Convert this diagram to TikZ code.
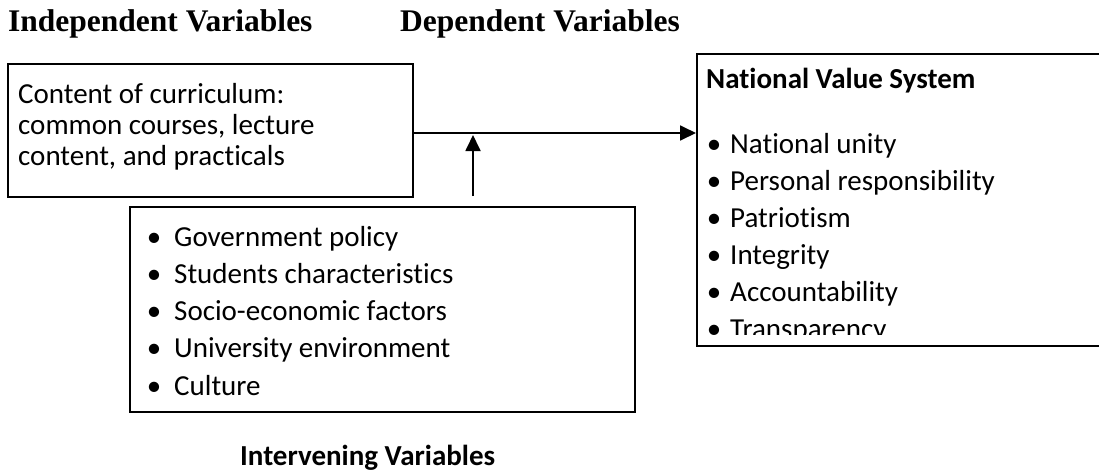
\documentclass[tikz,border=0pt]{standalone}
\usepackage{fontspec}
\setmainfont{Carlito}[Ligatures=CommonOff]
\newfontfamily\headfont{Liberation Serif}
\usetikzlibrary{arrows.meta}
\tikzset{
  box/.style={draw, line width=1.8pt, inner sep=0pt, anchor=north west},
  item/.style={anchor=base west, inner sep=0pt, font=\fontsize{29}{37}\selectfont},
  dot/.style={anchor=base, inner sep=0pt, font=\fontsize{29}{37}\selectfont},
  heading/.style={anchor=base west, inner sep=0pt, font=\headfont\bfseries\fontsize{31.5}{36}\selectfont},
  link/.style={line width=1.8pt, -{Triangle[length=16pt,width=15pt]}}
}
\begin{document}
\begin{tikzpicture}[x=1pt,y=-1pt]
    \useasboundingbox (0,0) rectangle (1099,472);
    \node[heading] (indep) at (8,31) {Independent Variables}; % top labels
    \node[heading] (dep) at (400,31) {Dependent Variables};
    % curriculum box
    \node[box, minimum width=405pt, minimum height=133pt] (content) at (7,63) {};
    \node[item] (c1) at (18,103) {Content of curriculum:};
    \node[item] (c2) at (18,134) {common courses, lecture};
    \node[item] (c3) at (18,165) {content, and practicals};
    % intervening box
    \node[box, minimum width=505pt, minimum height=205pt] (inter) at (129,206) {};
    \foreach \t [count=\i] in {Government policy, Students characteristics, Socio-economic factors, University environment, Culture}{
        \node[dot] (ib\i) at (154,208.75+37.25*\i) {\textbullet};
        \node[item] (it\i) at (174,208.75+37.25*\i) {\t};
    }
    \node[item, font=\bfseries\fontsize{29}{37}\selectfont] (ilabel) at (240,465) {Intervening Variables};
    % value system box, runs off the right side
    \node[box, minimum width=406pt, minimum height=292pt] (values) at (696,53) {};
    \node[item, font=\bfseries\fontsize{29}{37}\selectfont] (vtitle) at (706,88) {National Value System};
    \begin{scope}
        \clip (values.north west) rectangle (1099,334);
        \foreach \t [count=\i] in {National unity, Personal responsibility, Patriotism, Integrity, Accountability, Transparency}{
            \node[dot] (vb\i) at (714,116+37*\i) {\textbullet};
            \node[item] (vt\i) at (730,116+37*\i) {\t};
        }
    \end{scope}
    % arrows
    \coordinate (junction) at (473,133);
    \coordinate (foot) at (473,196);
    \draw[link] (content.east |- junction) -- (values.west |- junction);
    \draw[link, shorten >=2pt] (foot) -- (junction);
\end{tikzpicture}
\end{document}
